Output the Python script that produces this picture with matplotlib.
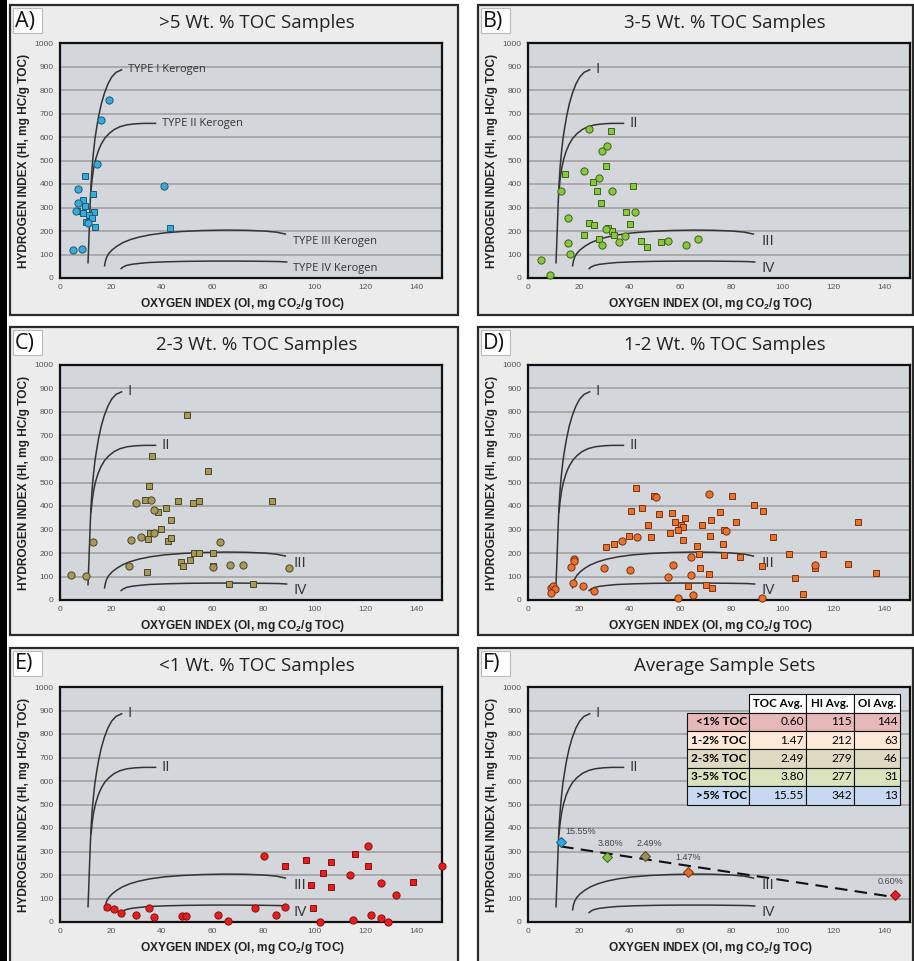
import numpy as np
import matplotlib
matplotlib.use('Agg')
import matplotlib.pyplot as plt
from matplotlib.patches import Rectangle
from matplotlib.table import Table

plt.rcParams['mathtext.fontset'] = 'custom'
plt.rcParams['mathtext.rm'] = 'Liberation Sans'
plt.rcParams['mathtext.bf'] = 'Liberation Sans:bold'

W, H = 914, 961

# ---------------- data (OI, HI) ----------------
a_circ_x = [5.0, 8.5, 7.1, 7.2, 6.1, 19.2, 16.1, 14.4, 41.0, 10.8]
a_circ_y = [121, 122, 377, 320, 287, 757, 671, 487, 391, 234]
a_sq_x = [9.7, 12.9, 9.2, 9.7, 6.8, 9.0, 13.3, 11.5, 12.4, 10.3, 13.6, 43.0]
a_sq_y = [433, 359, 332, 305, 285, 278, 282, 267, 255, 238, 216, 211]

b_circ_x = [5.0, 8.5, 13.1, 15.8, 15.8, 16.3, 23.9, 22.1, 28.0, 28.9, 31.0, 32.9,
            30.8, 29.0, 35.9, 37.9, 42.0, 55.0, 61.9, 66.9]
b_circ_y = [77, 12, 371, 255, 151, 104, 632, 457, 425, 542, 563, 371,
            210, 141, 152, 179, 282, 156, 139, 164]
b_sq_x = [14.5, 32.4, 30.6, 25.4, 26.9, 28.5, 41.4, 38.5, 40.1, 23.8, 25.9, 21.8,
          27.9, 31.6, 33.1, 33.7, 44.3, 46.9, 52.3]
b_sq_y = [444, 626, 475, 410, 369, 321, 390, 282, 230, 236, 225, 185,
          168, 213, 201, 183, 157, 134, 155]

c_circ_x = [4.3, 10.3, 13.0, 26.9, 28.0, 30.0, 32.0, 35.9, 37.1, 37.0, 59.9, 63.0,
            66.8, 71.9, 89.9]
c_circ_y = [108, 104, 248, 146, 257, 412, 270, 427, 384, 284, 139, 245,
            149, 151, 137]
c_sq_x = [49.7, 36.3, 58.3, 34.9, 33.5, 46.4, 52.3, 54.4, 83.1, 41.6, 38.4, 43.4,
          39.8, 35.4, 34.7, 42.3, 43.7, 34.2, 52.6, 54.6, 59.9, 47.5, 48.2, 51.0,
          60.0, 66.4, 75.6]
c_sq_y = [789, 613, 549, 485, 427, 423, 411, 421, 421, 391, 376, 339,
          304, 284, 260, 253, 262, 121, 198, 200, 198, 160, 143, 169,
          143, 70, 70]

d_circ_x = [9.0, 9.8, 10.6, 9.0, 17.9, 18.0, 17.0, 17.6, 21.7, 26.1, 30.0, 37.0,
            39.9, 42.9, 50.4, 56.8, 55.0, 59.0, 63.9, 64.9, 63.9, 70.9, 77.9, 91.9, 112.7]
d_circ_y = [52, 58, 47, 30, 173, 166, 140, 72, 61, 37, 137, 250,
            127, 267, 440, 151, 96, 7, 107, 21, 181, 453, 293, 8, 149]
d_sq_x = [42.6, 49.6, 40.5, 44.6, 51.6, 56.4, 61.7, 68.3, 71.7, 75.5, 57.9, 47.0,
          60.0, 61.0, 58.8, 55.8, 39.7, 48.4, 61.0, 71.6, 33.6, 30.7, 66.4, 67.0,
          67.7, 71.2, 62.8, 70.0, 72.4, 80.2, 81.5, 88.7, 92.1, 96.3, 76.7, 77.0,
          83.2, 77.1, 91.9, 102.3, 115.7, 105.0, 108.1, 112.7, 125.6, 129.6, 136.7]
d_sq_y = [478, 443, 378, 392, 364, 370, 349, 321, 342, 373, 332, 320,
          318, 310, 300, 287, 272, 269, 256, 274, 238, 225, 230, 194,
          137, 112, 58, 65, 51, 441, 331, 405, 378, 266, 240, 191,
          184, 297, 144, 197, 197, 95, 24, 137, 153, 334, 117]

e_circ_x = [18.6, 21.1, 23.8, 29.9, 35.1, 37.0, 48.0, 49.5, 62.0, 66.1, 76.7, 80.0,
            84.9, 88.4, 102.0, 113.9, 115.0, 120.9, 122.0, 125.9, 125.9, 128.9, 132.0, 150.0]
e_circ_y = [64, 55, 37, 28, 58, 21, 26, 26, 31, 4, 61, 281,
            28, 62, 1, 199, 10, 322, 30, 165, 16, 1, 115, 240]
e_sq_x = [88.4, 96.7, 98.4, 99.5, 103.4, 106.6, 106.3, 115.8, 120.8, 138.6]
e_sq_y = [237, 262, 156, 58, 209, 257, 150, 289, 240, 169]

avg_names = ['<1% TOC', '1-2% TOC', '2-3% TOC', '3-5% TOC', '>5% TOC']
avg_toc = [0.60, 1.47, 2.49, 3.80, 15.55]
avg_hi = [115, 212, 279, 277, 342]
avg_oi = [144, 63, 46, 31, 13]

# kerogen type reference curves (OI, HI)
k1_x = [11.0, 11.3, 11.6, 11.9, 12.2, 12.6, 13.1, 13.7, 14.4, 15.2, 16.2, 17.4,
        18.8, 20.3, 22.0, 24.2]
k1_y = [65, 150, 240, 330, 400, 470, 530, 590, 640, 690, 740, 785,
        825, 855, 875, 886]
k2_x = [12.2, 12.6, 13.2, 14.0, 15.0, 16.2, 17.6, 19.3, 21.3, 23.6, 26.3, 29.5,
        33.0, 37.5]
k2_y = [375, 420, 465, 505, 540, 570, 595, 615, 632, 644, 652, 656,
        658, 658]
k3_x = [17.5, 17.8, 18.3, 19.2, 20.5, 22.3, 24.6, 27.5, 31.0, 35.5, 41.0, 48.0,
        56.0, 65.0, 73.0, 80.0, 85.0, 88.5]
k3_y = [52, 70, 88, 105, 120, 135, 150, 163, 174, 184, 192, 198,
        202, 204, 203, 200, 195, 187]
k4_x = [24.0, 24.8, 26.0, 28.0, 31.0, 35.0, 42.0, 50.0, 60.0, 70.0, 80.0, 86.0, 89.0]
k4_y = [40, 47, 53, 58, 62, 66, 69, 71, 72, 72, 71, 70, 68]

panel_titles = ['>5 Wt. % TOC Samples', '3-5 Wt. % TOC Samples', '2-3 Wt. % TOC Samples',
                '1-2 Wt. % TOC Samples', '<1 Wt. % TOC Samples', 'Average Sample Sets']
panel_letters = ['A)', 'B)', 'C)', 'D)', 'E)', 'F)']
x_ticks = [0, 20, 40, 60, 80, 100, 120, 140]
y_ticks = [0, 100, 200, 300, 400, 500, 600, 700, 800, 900, 1000]

# ---------------- layout ----------------
fig = plt.figure(figsize=(W / 100, H / 100), dpi=100)
fig.patch.set_facecolor('white')


def fr(x0, y0, x1, y1):
    return [x0 / W, 1 - y1 / H, (x1 - x0) / W, (y1 - y0) / H]


fig.patches.append(Rectangle((0, 0), 7 / W, 1, transform=fig.transFigure,
                             facecolor='black', edgecolor='none', zorder=-20))

col_px = [(10, 458, 60), (478, 913, 528)]
row_px = [(5, 315, 43), (327, 635, 365), (648, 975, 687)]

sets = [
    (a_circ_x, a_circ_y, a_sq_x, a_sq_y, '#3aabd9', '#1d5a75'),
    (b_circ_x, b_circ_y, b_sq_x, b_sq_y, '#8cc540', '#3b6418'),
    (c_circ_x, c_circ_y, c_sq_x, c_sq_y, '#a59a5c', '#4c4626'),
    (d_circ_x, d_circ_y, d_sq_x, d_sq_y, '#e8732f', '#7a3210'),
    (e_circ_x, e_circ_y, e_sq_x, e_sq_y, '#e3201f', '#8a0f0f'),
]

LINE = '#333333'
for i in range(6):
    r, c = divmod(i, 2)
    px0, px1, ax_l = col_px[c]
    py0, py1, ax_t = row_px[r]
    # panel background
    fig.patches.append(Rectangle((px0 / W, 1 - py1 / H), (px1 - px0) / W, (py1 - py0) / H,
                                 transform=fig.transFigure, facecolor='#ececec',
                                 edgecolor='#2a2a2a', lw=1.6, zorder=-10))
    # letter box
    fig.patches.append(Rectangle(((px0 + 3) / W, 1 - (py0 + 28) / H), 29 / W, 25 / H,
                                 transform=fig.transFigure, facecolor='white',
                                 edgecolor='#bbbbbb', lw=0.8, zorder=-5))
    fig.text((px0 + 5) / W, 1 - (py0 + 16) / H, panel_letters[i], fontsize=15.5,
             family='Open Sans', va='center', ha='left', color='#111111')

    ax = fig.add_axes(fr(ax_l, ax_t, ax_l + 382, ax_t + 235))
    ax.set_facecolor('#d3d6da')
    ax.set_xlim(0, 150)
    ax.set_ylim(0, 1000)
    ax.set_xticks(x_ticks)
    ax.set_yticks(y_ticks)
    ax.tick_params(length=0, labelsize=6, labelcolor='#555555', pad=4.5)
    for lab in ax.get_xticklabels() + ax.get_yticklabels():
        lab.set_family('Liberation Sans')
    ax.grid(axis='y', color='#a2a2a2', lw=1.2)
    ax.set_axisbelow(True)
    for sp in ax.spines.values():
        sp.set_linewidth(1.6)
        sp.set_color('#111111')

    # title
    fig.text((ax_l + 191 + 6) / W, 1 - (py0 + 18) / H, panel_titles[i], fontsize=13.5,
             family='Open Sans', ha='center', va='center', color='#222222')
    # axis labels
    fig.text((px0 + 14) / W, 1 - (ax_t + 118) / H, 'HYDROGEN INDEX (HI, mg HC/g TOC)',
             rotation=90, fontsize=8.6, fontweight='bold', family='Liberation Sans',
             ha='center', va='center', color='#222222')
    fig.text((ax_l + 183) / W, 1 - (ax_t + 261) / H,
             r'OXYGEN INDEX (OI, mg CO$_\mathbf{2}$/g TOC)',
             fontsize=8.6, fontweight='bold', family='Liberation Sans',
             ha='center', va='center', color='#222222')

    # kerogen curves
    for kx, ky in [(k1_x, k1_y), (k2_x, k2_y), (k3_x, k3_y), (k4_x, k4_y)]:
        ax.plot(kx, ky, color=LINE, lw=1.1, zorder=2, solid_joinstyle='round')
    if i == 0:
        names = ['TYPE I Kerogen', 'TYPE II Kerogen', 'TYPE III Kerogen', 'TYPE IV Kerogen']
        fs = 8
    else:
        names = ['I', 'II', 'III', 'IV']
        fs = 11
    lab_pos = [(k1_x[-1] + 2.5, k1_y[-1]), (k2_x[-1] + 2.5, k2_y[-1]),
               (k3_x[-1] + 3, k3_y[-1] - 30), (k4_x[-1] + 2.5, k4_y[-1] - 28)]
    for nm, (lx, ly) in zip(names, lab_pos):
        ax.text(lx, ly, nm, fontsize=fs, family='Open Sans', color='#333333',
                ha='left', va='center', zorder=3)

    if i < 5:
        cx, cy, sx, sy, fc, ec = sets[i]
        ax.plot(sx, sy, 's', ms=4.8, mfc=fc, mec=ec, mew=0.7, ls='none', zorder=4,
                clip_on=False)
        ax.plot(cx, cy, 'o', ms=5.2, mfc=fc, mec=ec, mew=0.7, ls='none', zorder=4,
                clip_on=False)
    else:
        # trend line through averages
        coef = np.polyfit(avg_oi, avg_hi, 1)
        tx = np.array([min(avg_oi), max(avg_oi)])
        ax.plot(tx, np.polyval(coef, tx), color='#111111', lw=1.5,
                dashes=(6, 3.5), zorder=3)
        dcols = ['#e3202a', '#e36d2b', '#9a8f58', '#7fc143', '#2aace2']
        dedge = ['#8a1010', '#7a3210', '#4c4626', '#3b6418', '#1d5a75']
        offs = [(-4, 13), (0, 15), (4, 13), (4, 13), (4, 10)]
        has = ['center', 'center', 'center', 'center', 'left']
        for j in range(5):
            ax.plot(avg_oi[j], avg_hi[j], 'D', ms=5.5, mfc=dcols[j], mec=dedge[j],
                    mew=0.7, zorder=4, clip_on=False)
            ax.annotate('%.2f%%' % avg_toc[j], (avg_oi[j], avg_hi[j]),
                        xytext=offs[j], textcoords='offset pixels', ha=has[j],
                        va='center', fontsize=6.5, family='Liberation Sans',
                        color='#444444')

        # summary table
        rowcols = ['#e6b9b8', '#fde9d9', '#ddd9c3', '#d7e4bd', '#c6d9f1']
        colw = [63, 57, 48, 46]
        tbl = Table(ax, bbox=[0.415, 0.50, 0.558, 0.469])
        header = ['', 'TOC Avg.', 'HI Avg.', 'OI Avg.']
        for cc in range(4):
            cell = tbl.add_cell(0, cc, width=colw[cc], height=1, text=header[cc],
                                loc='center', facecolor='white', edgecolor='#111111')
            cell.get_text().set(fontsize=8.3, fontweight='bold', family='Lato')
            cell.set_linewidth(0.8)
            if cc == 0:
                cell.set_visible(False)
        for rr in range(5):
            vals = [avg_names[rr], '%.2f' % avg_toc[rr], str(avg_hi[rr]), str(avg_oi[rr])]
            for cc in range(4):
                cell = tbl.add_cell(rr + 1, cc, width=colw[cc], height=1, text=vals[cc],
                                    loc='right', facecolor=rowcols[rr],
                                    edgecolor='#111111')
                cell.PAD = 0.04
                cell.get_text().set(fontsize=8.6, family='Lato',
                                    fontweight='bold' if cc == 0 else 'normal')
                cell.set_linewidth(0.8)
        tbl.auto_set_font_size(False)
        tbl.set_zorder(6)
        ax.add_table(tbl)

fig.savefig('out.png', dpi=100)
